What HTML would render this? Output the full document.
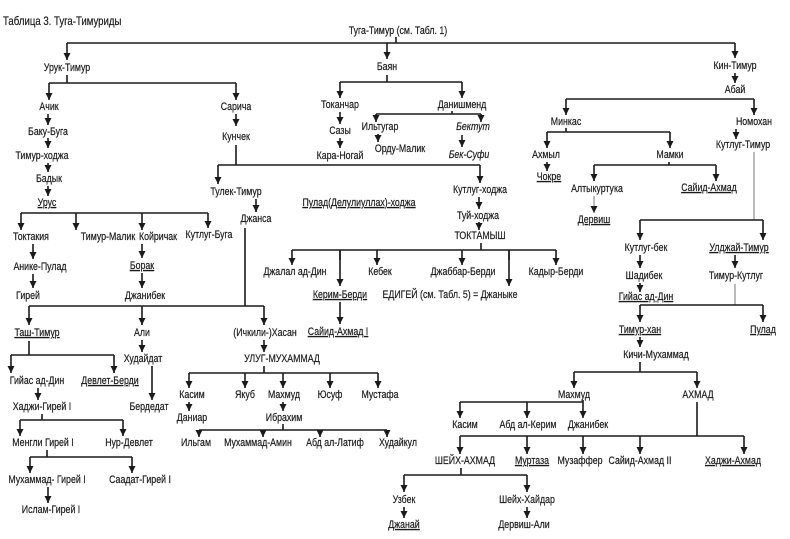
<!DOCTYPE html>
<html><head><meta charset="utf-8"><style>
html,body{margin:0;padding:0;background:#fff}
svg{display:block}
text{font-family:"Liberation Sans",sans-serif;font-size:11px;fill:#1a1a1a;stroke:#1a1a1a;stroke-width:0.2;text-anchor:middle}
.l{fill:none;stroke:#1a1a1a;stroke-width:1.6}
.g{fill:none;stroke:#777;stroke-width:1}
.a{fill:none;stroke:#1a1a1a;stroke-width:1.6;marker-end:url(#ar)}
.ag{fill:none;stroke:#777;stroke-width:1;marker-end:url(#ar)}
.u{text-decoration:underline}
.i{font-style:italic}
</style></head><body>
<svg width="790" height="539" viewBox="0 0 790 539" xmlns="http://www.w3.org/2000/svg">
<defs><marker id="ar" markerWidth="8" markerHeight="8" refX="7" refY="3.5" orient="auto" markerUnits="userSpaceOnUse"><path d="M0,0 L7,3.5 L0,7 Z" fill="#1a1a1a" stroke="none"/></marker></defs>
<text x="3" y="25" style="text-anchor:start;font-size:12px">Таблица 3. Туга-Тимуриды</text>
<text x="398" y="34">Туга-Тимур (см. Табл. 1)</text>
<path class="l" d="M396 37V43M67 43H735"/>
<path class="a" d="M67 43V60M387 43V59M735 43V58"/>
<text x="67" y="71">Урук-Тимур</text>
<path class="l" d="M67 75V83M49 83H236"/>
<path class="a" d="M49 83V100M236 83V100"/>
<text x="49" y="110">Ачик</text>
<text x="236" y="110">Сарича</text>
<path class="a" d="M48 114V125M236 114V126"/>
<text x="48" y="135">Баку-Буга</text>
<text x="236" y="140">Кунчек</text>
<path class="a" d="M48 138V148"/>
<text x="42" y="159">Тимур-ходжа</text>
<path class="a" d="M48 163V172"/>
<text x="49" y="182">Бадык</text>
<path class="a" d="M48 186V196"/>
<text x="47" y="206" class="u">Урус</text>
<path class="l" d="M21 213H208"/>
<path class="a" d="M21 213V230M76 213V230M142 213V230M208 213V228"/>
<text x="31" y="240">Токтакия</text>
<text x="108" y="240">Тимур-Малик</text>
<text x="158" y="240">Койричак</text>
<text x="209" y="238">Кутлуг-Буга</text>
<path class="a" d="M33 244V259M142 244V258"/>
<text x="40" y="270">Анике-Пулад</text>
<text x="142" y="269" class="u">Борак</text>
<path class="a" d="M33 274V288M142 273V288"/>
<text x="28" y="299">Гирей</text>
<text x="145" y="299">Джанибек</text>
<path class="l" d="M236 145V165M218 165H480"/>
<path class="a" d="M218 165V184M480 165V183"/>
<text x="236" y="195">Тулек-Тимур</text>
<path class="a" d="M256 199V212"/>
<text x="256" y="222">Джанса</text>
<path class="l" d="M245 228V306M29 306H264"/>
<path class="a" d="M29 306V325M142 306V325M264 306V325"/>
<text x="37" y="336" class="u">Таш-Тимур</text>
<text x="142" y="336">Али</text>
<text x="265" y="336">(Ичкили-)Хасан</text>
<path class="l" d="M29 341V355M11 355H114"/>
<path class="a" d="M11 355V373M114 355V373M142 340V352M264 340V352"/>
<text x="143" y="362">Худайдат</text>
<path class="a" d="M152 366V400"/>
<text x="149" y="410">Бердедат</text>
<text x="282" y="362">УЛУГ-МУХАММАД</text>
<path class="l" d="M264 366V373M189 373H378"/>
<path class="a" d="M189 373V388M245 373V388M283 373V388M330 373V388M378 373V388"/>
<text x="192" y="398">Касим</text><text x="245" y="398">Якуб</text><text x="284" y="398">Махмуд</text><text x="330" y="398">Юсуф</text><text x="380" y="398">Мустафа</text>
<path class="a" d="M189 402V411M283 402V411"/>
<text x="192" y="421">Даниар</text><text x="284" y="421">Ибрахим</text>
<path class="l" d="M283 424V430M199 430H387"/>
<path class="a" d="M199 430V437M263 430V437M320 430V437M387 430V437"/>
<text x="196" y="446">Ильгам</text><text x="258" y="446">Мухаммад-Амин</text><text x="335" y="446">Абд ал-Латиф</text><text x="398" y="446">Худайкул</text>
<text x="37" y="384">Гийас ад-Дин</text><text x="110" y="384" class="u">Девлет-Берди</text>
<path class="a" d="M38 388V400"/>
<text x="42" y="410">Хаджи-Гирей I</text>
<path class="l" d="M42 414V420M20 420H123"/>
<path class="a" d="M20 420V436M123 420V436"/>
<text x="43" y="446">Менгли Гирей I</text><text x="129" y="446">Нур-Девлет</text>
<path class="l" d="M47 450V457M30 457H132"/>
<path class="a" d="M30 457V473M132 457V473"/>
<text x="47" y="483">Мухаммад- Гирей I</text><text x="140" y="483">Саадат-Гирей I</text>
<path class="a" d="M48 487V503"/>
<text x="51" y="513">Ислам-Гирей I</text>
<text x="387" y="70">Баян</text>
<path class="l" d="M387 75V82M340 82H462"/>
<path class="a" d="M340 82V98M462 82V98"/>
<text x="340" y="108">Токанчар</text><text x="462" y="108">Данишменд</text>
<path class="l" d="M452 111V114M376 114H481"/>
<path class="a" d="M376 114V122M481 114V122M340 112V124"/>
<text x="340" y="134">Сазы</text>
<text x="380" y="130">Ильтугар</text>
<text x="473" y="130" class="i">Бектут</text>
<path class="a" d="M340 138V148M378 134V142M462 135V147"/>
<text x="340" y="159">Кара-Ногай</text>
<text x="400" y="152">Орду-Малик</text>
<text x="469" y="158" class="i">Бек-Суфи</text>
<text x="480" y="193">Кутлуг-ходжа</text>
<text x="359" y="206" class="u">Пулад(Делулиуллах)-ходжа</text>
<path class="a" d="M479 197V209"/>
<text x="478" y="219">Туй-ходжа</text>
<path class="a" d="M479 222V230"/>
<text x="480" y="239">ТОКТАМЫШ</text>
<path class="l" d="M481 243V250M292 250H556M340 250V260M509 250V260"/>
<path class="a" d="M292 250V265M377 250V265M462 250V265M556 250V265M340 250V286M509 250V286"/>
<text x="295" y="275">Джалал ад-Дин</text><text x="380" y="275">Кебек</text><text x="463" y="275">Джаббар-Берди</text><text x="556" y="275">Кадыр-Берди</text>
<text x="340" y="298" class="u">Керим-Берди</text>
<text x="450" y="298">ЕДИГЕЙ (см. Табл. 5) = Джаныке</text>
<path class="a" d="M340 302V324"/>
<text x="338" y="335" class="u">Сайид-Ахмад I</text>
<text x="735" y="69">Кин-Тимур</text>
<path class="a" d="M735 73V83"/>
<text x="735" y="93">Абай</text>
<path class="l" d="M566 99H754"/>
<path class="a" d="M566 99V115M754 99V115"/>
<text x="566" y="125">Минкас</text><text x="754" y="125">Номохан</text>
<path class="l" d="M566 128V132M547 132H670"/>
<path class="a" d="M547 132V148M670 132V148M736 129V139"/>
<text x="743" y="148">Кутлуг-Тимур</text>
<text x="546" y="158">Ахмыл</text><text x="670" y="158">Мамки</text>
<path class="a" d="M547 162V171"/>
<text x="549" y="180" class="u">Чокре</text>
<path class="l" d="M669 162V165M594 165H716"/>
<path class="a" d="M594 165V181M716 165V181"/>
<text x="597" y="192">Алтыкуртука</text><text x="709" y="191" class="u">Сайид-Ахмад</text>
<path class="ag" d="M594 196V213"/>
<text x="594" y="223" class="u">Дервиш</text>
<path class="g" d="M754 152V220"/>
<path class="l" d="M640 220H763"/>
<path class="a" d="M640 220V240M763 220V240"/>
<text x="646" y="251">Кутлуг-бек</text><text x="739" y="251" class="u">Улджай-Тимур</text>
<path class="a" d="M640 255V268M735 255V268"/>
<text x="644" y="279">Шадибек</text><text x="736" y="279">Тимур-Кутлуг</text>
<path class="a" d="M640 283V292"/>
<text x="646" y="300" class="u">Гийас ад-Дин</text>
<path class="g" d="M735 284V305"/>
<path class="l" d="M640 305H763"/>
<path class="a" d="M640 305V322M763 305V322"/>
<text x="640" y="333" class="u">Тимур-хан</text><text x="763" y="333" class="u">Пулад</text>
<path class="a" d="M640 337V347"/>
<text x="656" y="358">Кичи-Мухаммад</text>
<path class="l" d="M640 362V372M574 372H697"/>
<path class="a" d="M574 372V388M697 372V388"/>
<text x="574" y="398">Махмуд</text><text x="698" y="398">АХМАД</text>
<path class="l" d="M583 400V402M460 402H583"/>
<path class="a" d="M460 402V418M527 402V418M583 402V418"/>
<text x="465" y="428">Касим</text><text x="528" y="428">Абд ал-Керим</text><text x="588" y="428">Джанибек</text>
<path class="l" d="M697 402V436M460 436H744"/>
<path class="a" d="M460 436V454M527 436V454M583 436V454M640 436V454M744 436V454"/>
<text x="465" y="464">ШЕЙХ-АХМАД</text><text x="532" y="464" class="u">Муртаза</text><text x="580" y="464">Музаффер</text><text x="640" y="464">Сайид-Ахмад II</text><text x="733" y="464" class="u">Хаджи-Ахмад</text>
<path class="l" d="M461 468V475M404 475H527"/>
<path class="a" d="M404 475V492M527 475V492"/>
<text x="404" y="503">Узбек</text><text x="527" y="503">Шейх-Хайдар</text>
<path class="a" d="M404 507V518M527 507V518"/>
<text x="404" y="528" class="u">Джанай</text><text x="524" y="528">Дервиш-Али</text>
</svg>
<script>
document.querySelectorAll('svg text').forEach(function(t){
  try{var w=t.getComputedTextLength();t.setAttribute('textLength',(w*0.8).toFixed(1));t.setAttribute('lengthAdjust','spacingAndGlyphs');}catch(e){}
});
document.querySelectorAll('path.a, path.ag').forEach(function(p){
  var d=p.getAttribute('d');var parts=d.split('M').filter(function(s){return s.trim().length;});
  if(parts.length<2)return;
  parts.forEach(function(s){var n=p.cloneNode();n.setAttribute('d','M'+s);p.parentNode.insertBefore(n,p);});
  p.parentNode.removeChild(p);
});
</script>
</body></html>
